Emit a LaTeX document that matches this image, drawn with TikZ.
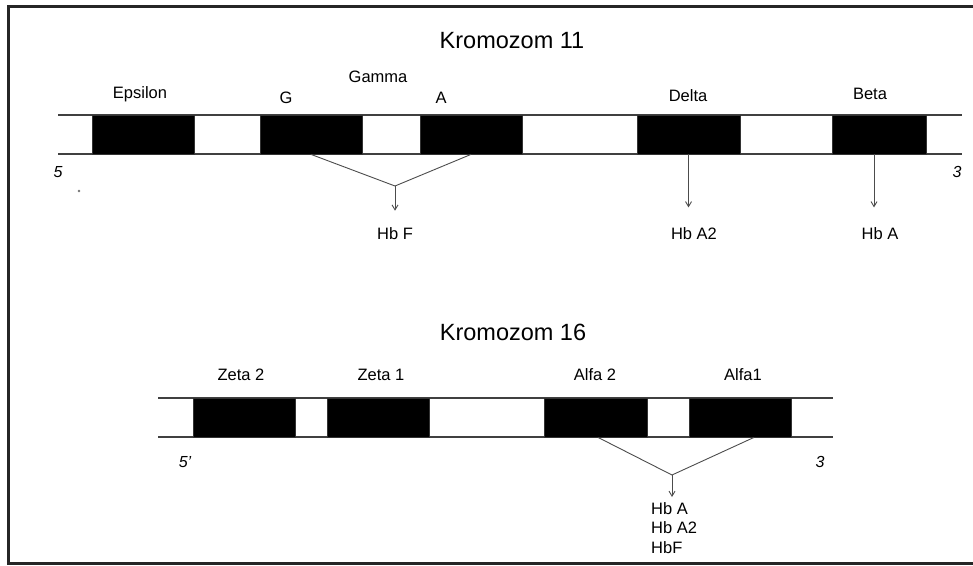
\documentclass[tikz,border=0pt]{standalone}
\usepackage{fontspec}
\setmainfont{Liberation Sans}
\usetikzlibrary{arrows.meta,calc}

\tikzset{
  frame/.style={line width=3pt, draw=black!85},
  strand/.style={draw=black!75, line width=1.3pt},
  gene/.style={draw=black!80, fill=black, line width=0.8pt, inner sep=0pt,
               minimum height=39pt},
  genelabel/.style={font=\fontsize{16.5}{18}\selectfont, inner sep=0pt},
  title/.style={font=\fontsize{23.5}{25}\selectfont, inner sep=0pt},
  endmark/.style={font=\fontsize{16}{18}\selectfont\itshape, inner sep=0pt},
  product/.style={font=\fontsize{16.5}{18}\selectfont, inner sep=0pt},
  link/.style={draw=black!70, line width=0.9pt},
  flow/.style={draw=black!70, line width=0.9pt,
               -{Straight Barb[length=5pt,width=6pt]}}
}

\begin{document}
\begin{tikzpicture}[x=1pt,y=-1pt]
\useasboundingbox (0,0) rectangle (973,565);

% open frame (left, top and bottom edges)
\draw[frame] (980,6.3) -- (8.3,6.3) -- (8.3,563.7) -- (980,563.7);

% ---------------- chromosome 11 ----------------
\node[title] (t11) at (512,41) {Kromozom 11};

\coordinate (a5) at (58,115);
\coordinate (a3) at (962,115);
\coordinate (b5) at (58,154);
\coordinate (b3) at (962,154);
\draw[strand] (a5) -- (a3);
\draw[strand] (b5) -- (b3);

\node[gene, minimum width=102pt] (eps)   at (143,134.5) {};
\node[gene, minimum width=102pt] (gg)    at (311,134.5) {};
\node[gene, minimum width=102pt] (ga)    at (471,134.5) {};
\node[gene, minimum width=103pt] (delta) at (688.5,134.5) {};
\node[gene, minimum width=94pt]  (beta)  at (879,134.5) {};

\node[genelabel] (leps)   at (140,94)  {Epsilon};
\node[genelabel] (lgg)    at (286,98)  {G};
\node[genelabel] (lgam)   at (378,77)  {Gamma};
\node[genelabel] (lga)    at (441,98)  {A};
\node[genelabel] (ldelta) at (688,96)  {Delta};
\node[genelabel] (lbeta)  at (870,94)  {Beta};

\node[endmark] (e5a) at (58,172) {5};
\fill[black!55] (79,191) circle (1.3pt);
\node[endmark] (e3a) at (957,172) {3};

% fetal haemoglobin from both gamma genes
\coordinate (vf) at (395,186);
\draw[link] (gg.south) -- (vf);
\draw[link] (ga.south) -- (vf);
\node[product] (hbf) at (395,234) {Hb F};
\draw[flow] (vf) -- ($(hbf.north)+(0,-17)$);

\node[product] (hba2) at (694,234) {Hb A2};
\draw[flow] (delta.south) -- ($(delta.south)+(0,53)$);

\node[product] (hba) at (880,234) {Hb A};
\draw[flow] ($(beta.south)+(-5,0)$) -- ($(beta.south)+(-5,53)$);

% ---------------- chromosome 16 ----------------
\node[title] (t16) at (513,332) {Kromozom 16};

\coordinate (c5) at (158,398);
\coordinate (c3) at (833,398);
\coordinate (d5) at (158,437);
\coordinate (d3) at (833,437);
\draw[strand] (c5) -- (c3);
\draw[strand] (d5) -- (d3);

\node[gene, minimum width=102pt] (z2) at (244,417.5) {};
\node[gene, minimum width=102pt] (z1) at (378,417.5) {};
\node[gene, minimum width=103pt] (a2) at (595.5,417.5) {};
\node[gene, minimum width=102pt] (a1) at (740,417.5) {};

\node[genelabel] (lz2) at (241,375) {Zeta 2};
\node[genelabel] (lz1) at (381,375) {Zeta 1};
\node[genelabel] (la2) at (595,375) {Alfa 2};
\node[genelabel] (la1) at (743,375) {Alfa1};

\node[endmark] (e5b) at (185,462) {5'};
\node[endmark] (e3b) at (820,462) {3};

% both alpha genes feed every adult and fetal haemoglobin
\coordinate (va) at (672,475);
\draw[link] ($(a2.south)+(2.5,0)$) -- (va);
\draw[link] ($(a1.south)+(14,0)$) -- (va);
\node[product, anchor=west] (p1) at (651,509) {Hb A};
\node[product, anchor=west] (p2) at (651,528) {Hb A2};
\node[product, anchor=west] (p3) at (651,548) {HbF};
\draw[flow] (va) -- (672,497);

% bottom edge drawn again so it overlaps the last label
\draw[frame, line width=2.5pt] (8.3,563.7) -- (980,563.7);
\end{tikzpicture}
\end{document}
